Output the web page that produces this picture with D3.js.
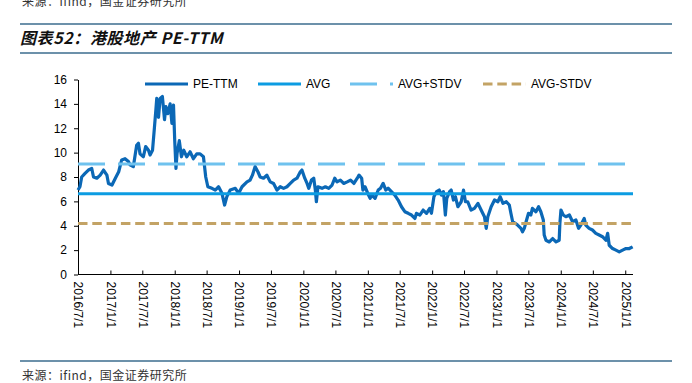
<!DOCTYPE html>
<html>
<head>
<meta charset="utf-8">
<script src="https://cdn.jsdelivr.net/npm/d3@7"></script>
<style>
  body { margin: 0; background: #fff; }
  svg { display: block; }
</style>
</head>
<body>
<div id="chart"></div>
<script>
// PE-TTM series (dates + values)
const peDates = [
  "2016-07-01","2016-07-12","2016-07-22","2016-08-10","2016-08-29","2016-09-17","2016-09-27","2016-10-16",
  "2016-11-04","2016-11-23","2016-12-12","2016-12-21","2017-01-10","2017-01-29","2017-02-17","2017-03-06",
  "2017-03-25","2017-04-13","2017-04-22","2017-05-11","2017-05-30","2017-06-09","2017-06-18","2017-07-07",
  "2017-07-20","2017-08-05","2017-08-14","2017-08-28","2017-09-08","2017-09-16","2017-09-21","2017-10-01",
  "2017-10-10","2017-10-23","2017-11-04","2017-11-12","2017-11-23","2017-12-06","2017-12-16","2017-12-25",
  "2018-01-01","2018-01-08","2018-01-14","2018-01-27","2018-02-08","2018-02-21","2018-03-10","2018-03-29",
  "2018-04-17","2018-05-06","2018-05-25","2018-06-13","2018-06-26","2018-07-08","2018-07-31","2018-08-19",
  "2018-09-07","2018-09-26","2018-10-11","2018-10-24","2018-11-12","2018-12-11","2018-12-30","2019-01-18",
  "2019-02-15","2019-03-05","2019-03-18","2019-04-02","2019-04-18","2019-05-01","2019-05-20","2019-06-08",
  "2019-06-27","2019-07-16","2019-08-04","2019-08-23","2019-09-11","2019-09-30","2019-10-19","2019-11-07",
  "2019-11-26","2019-12-15","2019-12-24","2020-01-09","2020-01-22","2020-02-01","2020-02-16","2020-02-29",
  "2020-03-09","2020-03-15","2020-03-24","2020-04-16","2020-05-05","2020-05-24","2020-06-12","2020-06-27",
  "2020-07-10","2020-07-29","2020-08-17","2020-09-06","2020-09-25","2020-10-14","2020-11-02","2020-11-12",
  "2020-11-27","2020-12-04","2020-12-16","2021-01-05","2021-01-14","2021-01-23","2021-02-11","2021-03-01",
  "2021-03-14","2021-03-29","2021-04-13","2021-04-26","2021-05-15","2021-06-03","2021-06-22","2021-07-11",
  "2021-07-30","2021-08-18","2021-09-06","2021-09-25","2021-10-04","2021-10-23","2021-11-11","2021-11-30",
  "2021-12-18","2021-12-28","2022-01-11","2022-01-26","2022-02-10","2022-02-23","2022-03-06","2022-03-17",
  "2022-03-25","2022-04-10","2022-04-19","2022-05-02","2022-05-13","2022-05-27","2022-06-15","2022-06-28",
  "2022-07-09","2022-07-22","2022-08-10","2022-08-29","2022-09-18","2022-10-06","2022-10-25","2022-11-04",
  "2022-11-13","2022-12-02","2022-12-21","2023-01-09","2023-01-22","2023-02-07","2023-02-26","2023-03-15",
  "2023-03-24","2023-04-03","2023-04-18","2023-05-01","2023-05-20","2023-05-29","2023-06-08","2023-06-21",
  "2023-07-02","2023-07-15","2023-07-24","2023-08-13","2023-08-28","2023-09-10","2023-09-24","2023-09-29",
  "2023-10-09","2023-10-28","2023-11-16","2023-12-05","2023-12-23","2023-12-27","2024-01-02","2024-01-15",
  "2024-01-30","2024-02-19","2024-03-08","2024-03-27","2024-04-11","2024-04-24","2024-05-13","2024-05-22",
  "2024-06-10","2024-06-29","2024-07-18","2024-08-06","2024-08-25","2024-09-13","2024-09-23","2024-10-02",
  "2024-10-21","2024-11-09","2024-11-28","2024-12-17","2025-01-05","2025-01-24","2025-02-12"
];
const peValues = [
  6.93,7.20,8.00,8.30,8.57,8.70,8.00,7.90,
  8.15,8.57,8.15,7.47,7.34,7.90,8.43,9.40,
  9.50,9.27,9.00,8.85,10.60,10.77,9.90,9.66,
  10.50,10.20,9.80,10.20,12.10,13.50,14.45,12.90,
  14.45,14.60,12.70,13.77,13.20,14.00,12.40,13.90,
  10.98,8.70,9.90,10.98,9.66,10.20,9.66,10.07,
  9.50,9.90,9.90,9.66,8.00,7.20,7.07,6.93,
  7.20,6.66,5.70,6.39,6.93,7.07,6.66,7.20,
  7.60,7.75,8.15,8.85,8.43,8.00,7.90,8.15,
  7.60,7.47,6.93,7.20,7.07,7.20,7.47,7.75,
  7.90,8.43,8.57,7.90,7.47,7.07,7.75,7.90,
  6.93,5.97,7.20,7.07,7.20,7.07,7.34,7.90,
  7.60,7.75,7.47,7.60,7.75,7.47,7.90,8.15,
  7.90,6.93,7.20,6.52,6.25,6.52,6.25,6.93,
  7.08,7.48,6.93,7.08,6.80,6.52,6.11,5.56,
  5.15,5.02,4.88,4.60,5.02,4.88,5.29,5.02,
  5.43,5.02,6.38,6.80,6.93,6.52,6.80,4.88,
  6.25,6.80,6.93,6.11,6.38,5.56,5.97,6.93,
  5.97,5.97,5.29,5.43,5.84,5.29,4.74,3.79,
  4.74,5.56,6.11,5.97,6.38,5.84,5.97,5.70,
  5.02,4.33,4.20,4.06,3.79,3.51,3.79,4.47,
  5.02,4.88,5.43,5.15,5.56,5.15,4.47,3.24,
  2.81,2.67,2.95,2.67,2.81,4.20,5.29,4.88,
  4.74,4.88,4.33,4.47,3.79,4.06,4.60,4.06,
  3.79,3.65,3.38,3.24,3.10,2.81,3.38,2.40,
  2.13,2.00,1.86,2.00,2.13,2.13,2.27
];

// reference lines
const refNames = ["AVG", "AVG+STDV", "AVG-STDV"];
const refValues = [6.63, 9.07, 4.19];

const seriesNames = ["PE-TTM", "AVG", "AVG+STDV", "AVG-STDV"];
const yTicks = [0, 2, 4, 6, 8, 10, 12, 14, 16];
const xTickLabels = [
  "2016/7/1","2017/1/1","2017/7/1","2018/1/1","2018/7/1","2019/1/1","2019/7/1","2020/1/1","2020/7/1",
  "2021/1/1","2021/7/1","2022/1/1","2022/7/1","2023/1/1","2023/7/1","2024/1/1","2024/7/1","2025/1/1"
];

const W = 692, H = 383;
const plot = { left: 78, right: 633, top: 79.5, bottom: 274.5 };

const colors = {
  "PE-TTM": "#0b68b6",
  "AVG": "#0c9ce2",
  "AVG+STDV": "#6fc2ee",
  "AVG-STDV": "#c3a365"
};
const dashes = {
  "PE-TTM": null,
  "AVG": null,
  "AVG+STDV": "27,13",
  "AVG-STDV": "9.5,4.8"
};

const parseDate = d3.timeParse("%Y-%m-%d");
const parseTick = d3.timeParse("%Y/%m/%d");
const data = peDates.map((d, i) => ({ date: parseDate(d), value: peValues[i] }));

const svg = d3.select("#chart").append("svg")
  .attr("width", W).attr("height", H);

// header/footer text + rules
const ruleColor = "#3b6c8e";
svg.append("text")
  .attr("x", 22).attr("y", 6)
  .style("font-family", "'Noto Sans CJK SC', sans-serif")
  .style("font-size", "12px").style("fill", "#333")
  .style("letter-spacing", "0.5px")
  .text("来源：ifind，国金证券研究所");
svg.append("line").attr("x1", 20).attr("x2", 672).attr("y1", 24).attr("y2", 24)
  .style("stroke", ruleColor).style("stroke-width", 1.5);
svg.append("text")
  .attr("x", 20).attr("y", 44)
  .style("font-family", "'Noto Sans CJK SC', sans-serif")
  .style("font-size", "16px").style("font-weight", "bold").style("font-style", "italic")
  .style("letter-spacing", "0.6px")
  .style("fill", "#111")
  .text("图表52：港股地产 PE-TTM");
svg.append("line").attr("x1", 20).attr("x2", 672).attr("y1", 53).attr("y2", 53)
  .style("stroke", ruleColor).style("stroke-width", 1.5);
svg.append("line").attr("x1", 20).attr("x2", 672).attr("y1", 361).attr("y2", 361)
  .style("stroke", ruleColor).style("stroke-width", 1.5);
svg.append("text")
  .attr("x", 22).attr("y", 380)
  .style("font-family", "'Noto Sans CJK SC', sans-serif")
  .style("font-size", "12px").style("fill", "#333")
  .style("letter-spacing", "0.5px")
  .text("来源：ifind，国金证券研究所");

// scales
const x = d3.scaleTime()
  .domain([parseDate("2016-07-01"), parseDate("2025-02-14")])
  .range([plot.left, plot.right]);
const y = d3.scaleLinear()
  .domain([0, 16])
  .range([plot.bottom, plot.top]);

// axes
const yAxis = svg.append("g")
  .attr("transform", `translate(${plot.left},0)`)
  .call(d3.axisLeft(y).tickValues(yTicks).tickSize(4).tickSizeOuter(0).tickPadding(7));
const xAxis = svg.append("g")
  .attr("transform", `translate(0,${plot.bottom})`)
  .call(d3.axisBottom(x)
    .tickValues(xTickLabels.map(parseTick))
    .tickFormat((d, i) => xTickLabels[i])
    .tickSize(-4).tickSizeOuter(0));

[yAxis, xAxis].forEach(ax => {
  ax.select(".domain").style("stroke", "#000").style("stroke-width", 1);
  ax.selectAll(".tick line").style("stroke", "#000");
  ax.selectAll("text")
    .style("font-family", "'Liberation Sans', Arial, sans-serif")
    .style("font-size", "12px").style("fill", "#000");
});
xAxis.select(".domain").attr("d", `M${plot.left},0H${plot.right}`);
xAxis.selectAll(".tick text")
  .attr("transform", "rotate(90)")
  .attr("x", 7).attr("y", 0).attr("dy", "0.35em")
  .style("text-anchor", "start");

// PE-TTM line
const line = d3.line()
  .x(d => x(d.date))
  .y(d => y(d.value));
svg.append("path")
  .datum(data)
  .attr("d", line)
  .style("fill", "none")
  .style("stroke", colors["PE-TTM"])
  .style("stroke-width", 3.2)
  .style("stroke-linejoin", "round");

// reference lines drawn on top
refNames.forEach((name, i) => {
  svg.append("line")
    .attr("x1", x.range()[0]).attr("x2", x.range()[1])
    .attr("y1", y(refValues[i])).attr("y2", y(refValues[i]))
    .style("stroke", colors[name])
    .style("stroke-width", 3)
    .style("stroke-dasharray", dashes[name]);
});

// legend
const legendX = [145, 258, 350, 483];
const legend = svg.append("g");
seriesNames.forEach((name, i) => {
  const g = legend.append("g").attr("transform", `translate(${legendX[i]},84)`);
  g.append("line")
    .attr("x1", 0).attr("x2", 43)
    .style("stroke", colors[name])
    .style("stroke-width", 3)
    .style("stroke-dasharray", dashes[name]);
  g.append("text")
    .attr("x", 48).attr("y", 0).attr("dy", "0.35em")
    .style("font-family", "'Liberation Sans', Arial, sans-serif")
    .style("font-size", "12px").style("fill", "#000")
    .text(name);
});
</script>
</body>
</html>
